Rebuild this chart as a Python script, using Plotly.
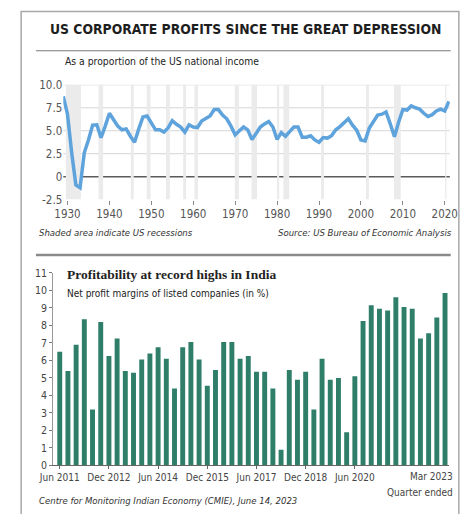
import plotly.graph_objects as go

# ---------------- data ----------------
years = list(range(1929, 2022))
profit_share = [
    8.75, 6.8, 2.6, -0.9, -1.2, 2.6, 4.0, 5.6, 5.65, 4.25,          # 1929-1938
    5.5, 6.9, 6.2, 5.5, 5.1, 5.2, 4.4, 3.75, 5.2, 6.5,              # 1939-1948
    6.6, 5.8, 5.1, 5.1, 4.85, 5.3, 6.1, 5.7, 5.4, 4.85,             # 1949-1958
    5.65, 5.4, 5.35, 6.05, 6.3, 6.6, 7.3, 7.3, 6.7, 6.3,            # 1959-1968
    5.5, 4.55, 5.0, 5.4, 5.1, 4.05, 4.7, 5.4, 5.75, 6.0,            # 1969-1978
    5.4, 4.05, 4.8, 4.4, 4.9, 5.4, 5.4, 4.3, 4.3, 4.45,             # 1979-1988
    4.0, 3.75, 4.25, 4.2, 4.45, 5.1, 5.45, 5.9, 6.3, 5.6,           # 1989-1998
    5.05, 4.0, 3.9, 5.3, 5.95, 6.7, 6.8, 7.05, 5.75, 4.35,          # 1999-2008
    5.95, 7.3, 7.25, 7.7, 7.5, 7.35, 6.9, 6.55, 6.75, 7.15,         # 2009-2018
    7.35, 7.15, 8.2,                                                # 2019-2021
]
recession_start = [1929.6, 1937.4, 1945.1, 1948.9, 1953.5, 1957.6, 1960.3, 1969.9,
                   1973.9, 1980.0, 1981.5, 1990.5, 2001.2, 2007.9, 2020.1]
recession_end = [1933.2, 1938.5, 1945.8, 1949.8, 1954.4, 1958.3, 1961.1, 1970.9,
                 1975.2, 1980.5, 1982.9, 1991.2, 2001.9, 2009.5, 2020.4]
top_xticks = [1930, 1940, 1950, 1960, 1970, 1980, 1990, 2000, 2010, 2020]
top_yticks = [-2.5, 0, 2.5, 5, 7.5, 10]
top_yticklabels = ["-2.5", "0", "2.5", "5.0", "7.5", "10.0"]
top_gridvals = [2.5, 5, 7.5, 10]

quarters = [
    "Jun 2011", "Sep 2011", "Dec 2011", "Mar 2012", "Jun 2012", "Sep 2012",
    "Dec 2012", "Mar 2013", "Jun 2013", "Sep 2013", "Dec 2013", "Mar 2014",
    "Jun 2014", "Sep 2014", "Dec 2014", "Mar 2015", "Jun 2015", "Sep 2015",
    "Dec 2015", "Mar 2016", "Jun 2016", "Sep 2016", "Dec 2016", "Mar 2017",
    "Jun 2017", "Sep 2017", "Dec 2017", "Mar 2018", "Jun 2018", "Sep 2018",
    "Dec 2018", "Mar 2019", "Jun 2019", "Sep 2019", "Dec 2019", "Mar 2020",
    "Jun 2020", "Sep 2020", "Dec 2020", "Mar 2021", "Jun 2021", "Sep 2021",
    "Dec 2021", "Mar 2022", "Jun 2022", "Sep 2022", "Dec 2022", "Mar 2023",
]
margins = [
    6.5, 5.4, 6.9, 8.35, 3.2, 8.2, 6.25, 7.25, 5.4, 5.3,
    6.05, 6.4, 6.75, 6.1, 4.4, 6.75, 7.05, 6.05, 4.55, 5.45,
    7.05, 7.05, 6.1, 6.25, 5.35, 5.35, 4.4, 0.9, 5.45, 4.9,
    5.35, 3.2, 6.1, 4.9, 5.0, 1.9, 5.1, 8.25, 9.15, 8.95,
    8.85, 9.6, 9.05, 8.95, 7.25, 7.55, 8.45, 9.85,
]
bottom_xticks = ["Jun 2011", "Dec 2012", "Jun 2014", "Dec 2015", "Jun 2017",
                 "Dec 2018", "Jun 2020"]
bottom_yticks = list(range(0, 12))

# ---------------- helpers ----------------
W, H = 474, 514
def px(x):
    return x / W
def py(y):
    return 1 - y / H

COND = "DejaVu Sans Condensed, DejaVu Sans, sans-serif"
SERIF = "Liberation Serif, DejaVu Serif, serif"

fig = go.Figure()

fig.add_trace(go.Scatter(
    x=years, y=profit_share, mode="lines",
    line=dict(color="#5ea3dc", width=3.5),
    xaxis="x", yaxis="y", hoverinfo="skip", showlegend=False,
))

fig.add_trace(go.Bar(
    x=quarters, y=margins,
    marker=dict(color="#2e7e69", line=dict(width=0)),
    xaxis="x2", yaxis="y2", hoverinfo="skip", showlegend=False,
))

shapes = []
for s, e in zip(recession_start, recession_end):
    shapes.append(dict(type="rect", xref="x", yref="y", x0=s, x1=e, y0=-2.5, y1=10,
                       fillcolor="#ebebeb", line=dict(width=0), layer="below"))
for g in top_gridvals:
    shapes.append(dict(type="line", xref="x domain", yref="y", x0=0, x1=1, y0=g, y1=g,
                       line=dict(color="#d6d6d6", width=1), layer="below"))
shapes.append(dict(type="line", xref="x domain", yref="y", x0=0, x1=1, y0=0, y1=0,
                   line=dict(color="#5a5a5a", width=1.5), layer="below"))
# frame
shapes.append(dict(type="rect", xref="paper", yref="paper", x0=px(7.5), x1=px(466.5),
                   y0=py(530), y1=py(4.5), line=dict(color="#a8a8a8", width=1.5)))
# rules
shapes.append(dict(type="line", xref="paper", yref="paper", x0=px(23), x1=px(458),
                   y0=py(45), y1=py(45), line=dict(color="#7a7a7a", width=1.2)))
shapes.append(dict(type="line", xref="paper", yref="paper", x0=px(23), x1=px(458),
                   y0=py(255), y1=py(255), line=dict(color="#8a8a8a", width=2.5)))

annotations = [
    dict(text="<b>US CORPORATE PROFITS SINCE THE GREAT DEPRESSION</b>",
         x=px(243), y=py(23), xanchor="center", yanchor="middle",
         font=dict(family=COND, size=13.8, color="#1e1e1e")),
    dict(text="As a proportion of the US national income",
         x=px(51), y=py(56), xanchor="left", yanchor="middle",
         font=dict(family=COND, size=10.3, color="#222")),
    dict(text="<i>Shaded area indicate US recessions</i>",
         x=px(24), y=py(232), xanchor="left", yanchor="middle",
         font=dict(family=COND, size=9.5, color="#333")),
    dict(text="<i>Source: US Bureau of Economic Analysis</i>",
         x=px(461), y=py(232), xanchor="right", yanchor="middle",
         font=dict(family=COND, size=9.5, color="#333")),
    dict(text="<b>Profitability at record highs in India</b>",
         x=px(54), y=py(275), xanchor="left", yanchor="middle",
         font=dict(family=SERIF, size=13.5, color="#222")),
    dict(text="Net profit margins of listed companies (in %)",
         x=px(54), y=py(295), xanchor="left", yanchor="middle",
         font=dict(family=COND, size=10, color="#222")),
    dict(text="Mar 2023",
         x=px(462), y=py(483), xanchor="right", yanchor="middle",
         font=dict(family=COND, size=10, color="#444")),
    dict(text="Quarter ended",
         x=px(462), y=py(499), xanchor="right", yanchor="middle",
         font=dict(family=COND, size=10, color="#444")),
    dict(text="<i>Centre for Monitoring Indian Economy (CMIE), June 14, 2023</i>",
         x=px(24), y=py(507), xanchor="left", yanchor="middle",
         font=dict(family=COND, size=9.5, color="#333")),
]
for a in annotations:
    a.update(xref="paper", yref="paper", showarrow=False)

fig.update_layout(
    width=W, height=H,
    margin=dict(l=0, r=0, t=0, b=0),
    paper_bgcolor="white", plot_bgcolor="rgba(0,0,0,0)",
    shapes=shapes, annotations=annotations,
    bargap=0.4,
    xaxis=dict(domain=[px(51.7), px(457)], range=[1929, 2021.2],
               tickvals=top_xticks, ticks="outside", ticklen=4, tickcolor="#888",
               showgrid=False, zeroline=False, showline=False,
               tickfont=dict(family=COND, size=11.5, color="#555"), anchor="y"),
    yaxis=dict(domain=[py(198), py(80)], range=[-2.5, 10],
               tickvals=top_yticks, ticktext=top_yticklabels,
               showgrid=False, zeroline=False, showline=False,
               tickfont=dict(family=COND, size=11.5, color="#555"), anchor="x"),
    xaxis2=dict(domain=[px(41), px(456.3)], range=[-0.81, 47.5], type="category",
                tickvals=bottom_xticks, ticktext=bottom_xticks, tickangle=0,
                ticks="outside", ticklen=3, tickcolor="#666",
                showline=True, linecolor="#666", linewidth=1,
                showgrid=False, zeroline=False,
                tickfont=dict(family=COND, size=10, color="#444"), anchor="y2"),
    yaxis2=dict(domain=[py(471.3), py(273.3)], range=[0, 11],
                tickvals=bottom_yticks, ticks="outside", ticklen=3, tickcolor="#777",
                showline=True, linecolor="#999", linewidth=1,
                showgrid=False, zeroline=False,
                tickfont=dict(family=COND, size=10.5, color="#444"), anchor="x2"),
)

fig.write_html("out.html")
